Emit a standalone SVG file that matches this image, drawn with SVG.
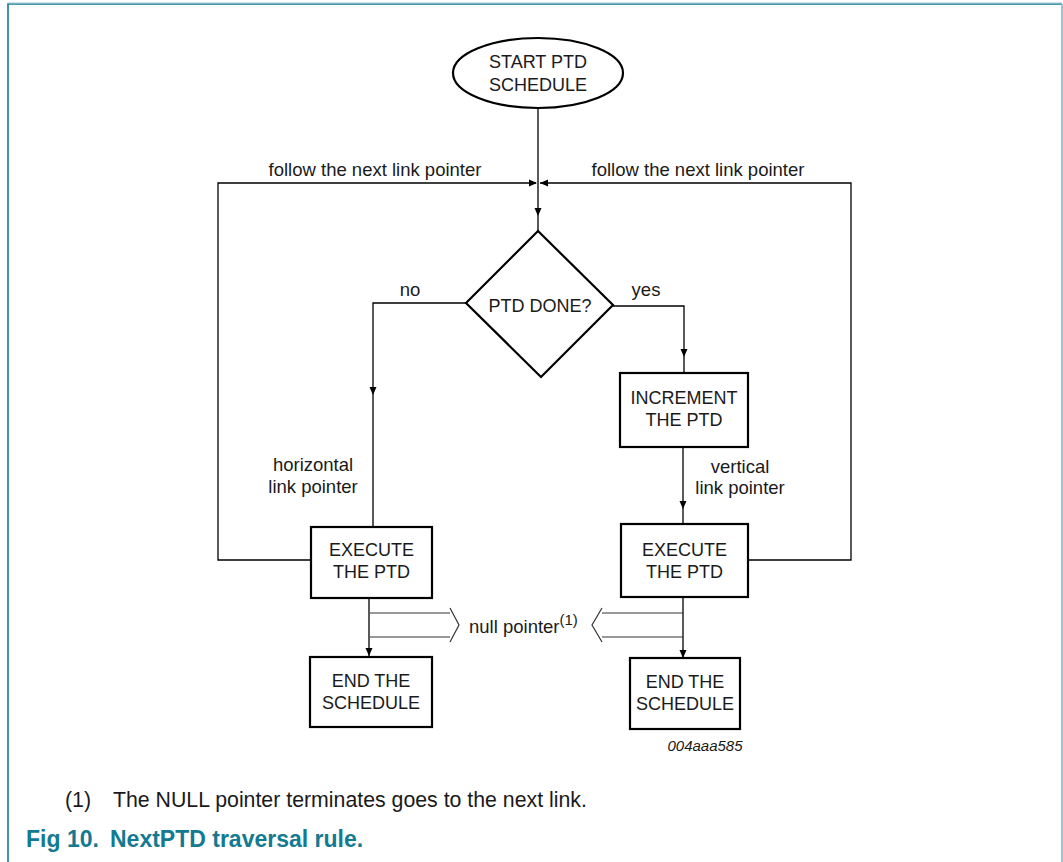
<svg xmlns="http://www.w3.org/2000/svg" width="1063" height="862" viewBox="0 0 1063 862">
<style>
.frame{fill:none;stroke:#137a91;stroke-width:1.6}
.box{fill:#fff;stroke:#000;stroke-width:2.2}
.ln{fill:none;stroke:#000;stroke-width:1.3}
.hl{fill:none;stroke:#333;stroke-width:1.2}
.ah{fill:#000}
text{font-family:"Liberation Sans",Arial,sans-serif;fill:#1a1a1a}
.nt{font-size:18px;text-anchor:middle}
.lb{font-size:18.5px}
.fn{font-size:21.3px}
.cap{font-size:23px;font-weight:bold;fill:#137a91}
.id{font-size:15px;font-style:italic;text-anchor:middle}
</style>
<rect x="0" y="0" width="1063" height="862" fill="#fff"/>
<path class="frame" d="M8,862 V4 H1062"/>
<line x1="1062" y1="4" x2="1062" y2="862" stroke="#7fb8c8" stroke-width="1.6"/>
<line x1="8" y1="3" x2="1062" y2="3" stroke="#9fcad6" stroke-width="1"/>

<g id="connectors">
  <line class="ln" x1="538" y1="108" x2="538" y2="231"/>
  <polygon class="ah" points="534.5,208 541.5,208 538,216"/>
  <polyline class="ln" points="311,560 218,560 218,183 536,183"/>
  <polygon class="ah" points="529,179.5 529,186.5 537,183"/>
  <polyline class="ln" points="748,560 851,560 851,183 540,183"/>
  <polygon class="ah" points="548,179.5 548,186.5 540,183"/>
  <polyline class="ln" points="466,303 373,303 373,527"/>
  <polygon class="ah" points="369.5,387 376.5,387 373,395"/>
  <polyline class="ln" points="613,306 684,306 684,373"/>
  <polygon class="ah" points="680.5,349 687.5,349 684,357"/>
  <line class="ln" x1="683" y1="447" x2="683" y2="524"/>
  <polygon class="ah" points="679.5,501 686.5,501 683,509"/>
  <line class="ln" x1="369" y1="598" x2="369" y2="657"/>
  <polygon class="ah" points="365.5,648 372.5,648 369,656"/>
  <line class="ln" x1="683" y1="597" x2="683" y2="658"/>
  <polygon class="ah" points="679.5,650 686.5,650 683,658"/>
  <path class="hl" d="M370,613 H450 M370,637 H450 M450,608 L459,625 L450,642"/>
  <path class="hl" d="M683,613 H602 M683,637 H602 M602,608 L592,625 L602,642"/>
</g>

<g id="start">
  <ellipse class="box" cx="538" cy="73" rx="85" ry="35"/>
  <text class="nt" x="538" y="68">START PTD</text>
  <text class="nt" x="538" y="91">SCHEDULE</text>
</g>

<g id="decision">
  <polygon class="box" points="538,231 613,305 541,377 466,303"/>
  <text class="nt" x="540" y="312">PTD DONE?</text>
</g>

<g id="increment">
  <rect class="box" x="620" y="373" width="128" height="74"/>
  <text class="nt" x="684" y="404">INCREMENT</text>
  <text class="nt" x="684" y="426">THE PTD</text>
</g>

<g id="execute-left">
  <rect class="box" x="311" y="527" width="121" height="71"/>
  <text class="nt" x="371.5" y="556">EXECUTE</text>
  <text class="nt" x="371.5" y="578">THE PTD</text>
</g>

<g id="execute-right">
  <rect class="box" x="621" y="524" width="127" height="73"/>
  <text class="nt" x="684.5" y="556">EXECUTE</text>
  <text class="nt" x="684.5" y="578">THE PTD</text>
</g>

<g id="end-left">
  <rect class="box" x="310" y="657" width="122" height="70"/>
  <text class="nt" x="371" y="687">END THE</text>
  <text class="nt" x="371" y="709">SCHEDULE</text>
</g>

<g id="end-right">
  <rect class="box" x="630" y="658" width="110" height="71"/>
  <text class="nt" x="685" y="688" font-size="17">END THE</text>
  <text class="nt" x="685" y="710" font-size="17">SCHEDULE</text>
</g>

<g id="labels">
  <text class="lb" x="375" y="176" text-anchor="middle">follow the next link pointer</text>
  <text class="lb" x="698" y="176" text-anchor="middle">follow the next link pointer</text>
  <text class="lb" x="410" y="296" text-anchor="middle">no</text>
  <text class="lb" x="646" y="296" text-anchor="middle">yes</text>
  <text class="lb" x="313" y="471" text-anchor="middle">horizontal</text>
  <text class="lb" x="313" y="493" text-anchor="middle">link pointer</text>
  <text class="lb" x="740" y="473" text-anchor="middle">vertical</text>
  <text class="lb" x="740" y="494" text-anchor="middle">link pointer</text>
  <text class="lb" x="469" y="633">null pointer<tspan font-size="15" dy="-8">(1)</tspan></text>
  <text class="id" x="705" y="751">004aaa585</text>
</g>

<text class="fn" x="65" y="807">(1)</text>
<text class="fn" x="113" y="807">The NULL pointer terminates goes to the next link.</text>
<text class="cap" x="26" y="847">Fig 10.</text>
<text class="cap" x="110" y="847">NextPTD traversal rule.</text>
</svg>
